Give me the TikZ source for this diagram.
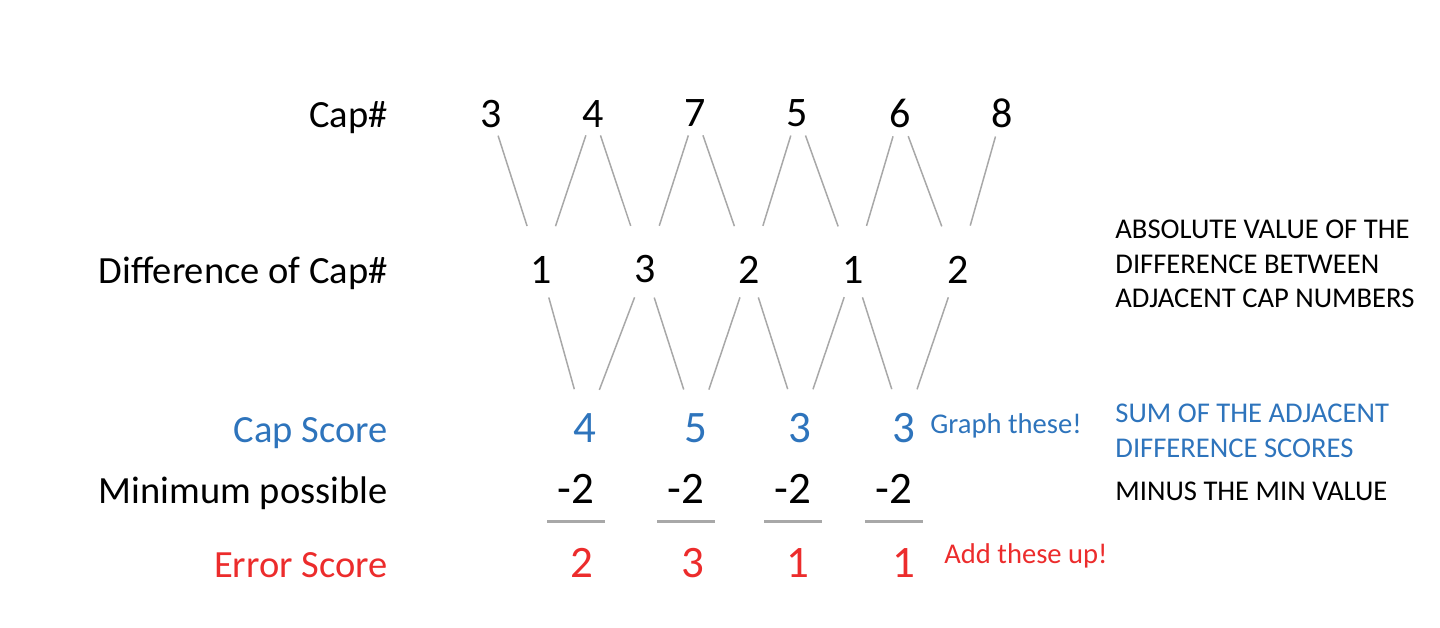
\documentclass[tikz,border=0pt]{standalone}
\usepackage{fontspec}
\setmainfont{Carlito}
\usepackage{tikz}
\usetikzlibrary{positioning}
\definecolor{scoreblue}{RGB}{46,116,188}
\definecolor{errorred}{RGB}{236,44,44}
\definecolor{linkgray}{RGB}{168,168,168}

\begin{document}
\begin{tikzpicture}[x=0.5pt, y=-0.5pt, node distance=51.1pt]
    \tikzstyle{rowlabel} = [anchor=base east, inner sep=0pt, font=\fontsize{19.25}{23}\selectfont]
    \tikzstyle{digit} = [anchor=base, inner sep=0pt, font=\fontsize{21}{25}\selectfont]
    \tikzstyle{bigdigit} = [anchor=base, inner sep=0pt, font=\fontsize{22.5}{27}\selectfont]
    \tikzstyle{note} = [anchor=north west, inner sep=0pt, align=left, font=\fontsize{14.3}{17.25}\selectfont]
    \tikzstyle{hint} = [anchor=base west, inner sep=0pt, font=\fontsize{14.3}{17.25}\selectfont]
    \tikzstyle{link} = [draw=linkgray, line width=0.75pt]
    \tikzstyle{bar} = [draw=linkgray, line width=1.5pt]

    \useasboundingbox (0,0) rectangle (1440,627);

    % row labels
    \node [rowlabel] (caplabel) at (388,127) {Cap\#};
    \node [rowlabel] (difflabel) at (388,283) {Difference of Cap\#};
    \node [rowlabel, text=scoreblue] (scorelabel) at (388,442) {Cap Score};
    \node [rowlabel] (minlabel) at (388,503) {Minimum possible};
    \node [rowlabel, text=errorred] (errlabel) at (388,577) {Error Score};

    % cap numbers
    \node [digit] (c1) at (491,127) {3};
    \node [digit, right of=c1] (c2) {4};
    \node [digit, right of=c2] (c3) {7};
    \node [digit, right of=c3] (c4) {5};
    \node [digit, right of=c4] (c5) {6};
    \node [digit, right of=c5] (c6) {8};

    % differences
    \node [digit] (d1) at (541,283) {1};
    \node [digit, right of=d1, node distance=52.1pt] (d2) {3};
    \node [digit, right of=d2, node distance=52.1pt] (d3) {2};
    \node [digit, right of=d3, node distance=52.1pt] (d4) {1};
    \node [digit, right of=d4, node distance=52.1pt] (d5) {2};

    % cap scores
    \node [bigdigit, text=scoreblue] (s1) at (585,442) {4};
    \node [bigdigit, text=scoreblue] (s2) at (696,442) {5};
    \node [bigdigit, text=scoreblue] (s3) at (800,442) {3};
    \node [bigdigit, text=scoreblue] (s4) at (904,442) {3};

    % minimum
    \node [bigdigit] (m1) at (576,503) {-2};
    \node [bigdigit] (m2) at (686,503) {-2};
    \node [bigdigit] (m3) at (793,503) {-2};
    \node [bigdigit] (m4) at (894,503) {-2};

    % error scores
    \node [bigdigit, text=errorred] (e1) at (582,577) {2};
    \node [bigdigit, text=errorred] (e2) at (693,577) {3};
    \node [bigdigit, text=errorred] (e3) at (798,577) {1};
    \node [bigdigit, text=errorred] (e4) at (904,577) {1};

    % notes
    \node [note] (absnote) at (1115,220) {ABSOLUTE VALUE OF THE\\DIFFERENCE BETWEEN\\ADJACENT CAP NUMBERS};
    \node [note, text=scoreblue] (sumnote) at (1115,404) {SUM OF THE ADJACENT\\DIFFERENCE SCORES};
    \node [note] (minnote) at (1115,482) {MINUS THE MIN VALUE};
    \node [hint, text=scoreblue] (graphhint) at (930,433) {Graph these!};
    \node [hint, text=errorred] (addhint) at (944,563) {Add these up!};

    % cap numbers to differences
    \draw [link, shorten <=4.2pt, shorten >=15.5pt] (c1) -- (d1);
    \draw [link, shorten <=4.2pt, shorten >=15.5pt] (c2) -- (d1);
    \draw [link, shorten <=4.2pt, shorten >=15.5pt] (c2) -- (d2);
    \draw [link, shorten <=4.2pt, shorten >=15.5pt] (c3) -- (d2);
    \draw [link, shorten <=4.2pt, shorten >=15.5pt] (c3) -- (d3);
    \draw [link, shorten <=4.2pt, shorten >=15.5pt] (c4) -- (d3);
    \draw [link, shorten <=4.2pt, shorten >=15.5pt] (c4) -- (d4);
    \draw [link, shorten <=4.2pt, shorten >=15.5pt] (c5) -- (d4);
    \draw [link, shorten <=4.2pt, shorten >=15.5pt] (c5) -- (d5);
    \draw [link, shorten <=4.2pt, shorten >=15.5pt] (c6) -- (d5);

    % differences to cap scores
    \draw [link, shorten <=7.3pt, shorten >=12.2pt] (d1) -- (s1);
    \draw [link, shorten <=7.3pt, shorten >=12.2pt] (d2) -- (s1);
    \draw [link, shorten <=7.3pt, shorten >=12.2pt] (d2) -- (s2);
    \draw [link, shorten <=7.3pt, shorten >=12.2pt] (d3) -- (s2);
    \draw [link, shorten <=7.3pt, shorten >=12.2pt] (d3) -- (s3);
    \draw [link, shorten <=7.3pt, shorten >=12.2pt] (d4) -- (s3);
    \draw [link, shorten <=7.3pt, shorten >=12.2pt] (d4) -- (s4);
    \draw [link, shorten <=7.3pt, shorten >=12.2pt] (d5) -- (s4);

    % subtraction bars
    \draw [bar] ([xshift=-14.5pt, yshift=-9pt]m1.south) -- ([xshift=14.5pt, yshift=-9pt]m1.south);
    \draw [bar] ([xshift=-14.5pt, yshift=-9pt]m2.south) -- ([xshift=14.5pt, yshift=-9pt]m2.south);
    \draw [bar] ([xshift=-14.5pt, yshift=-9pt]m3.south) -- ([xshift=14.5pt, yshift=-9pt]m3.south);
    \draw [bar] ([xshift=-14.5pt, yshift=-9pt]m4.south) -- ([xshift=14.5pt, yshift=-9pt]m4.south);
\end{tikzpicture}
\end{document}
